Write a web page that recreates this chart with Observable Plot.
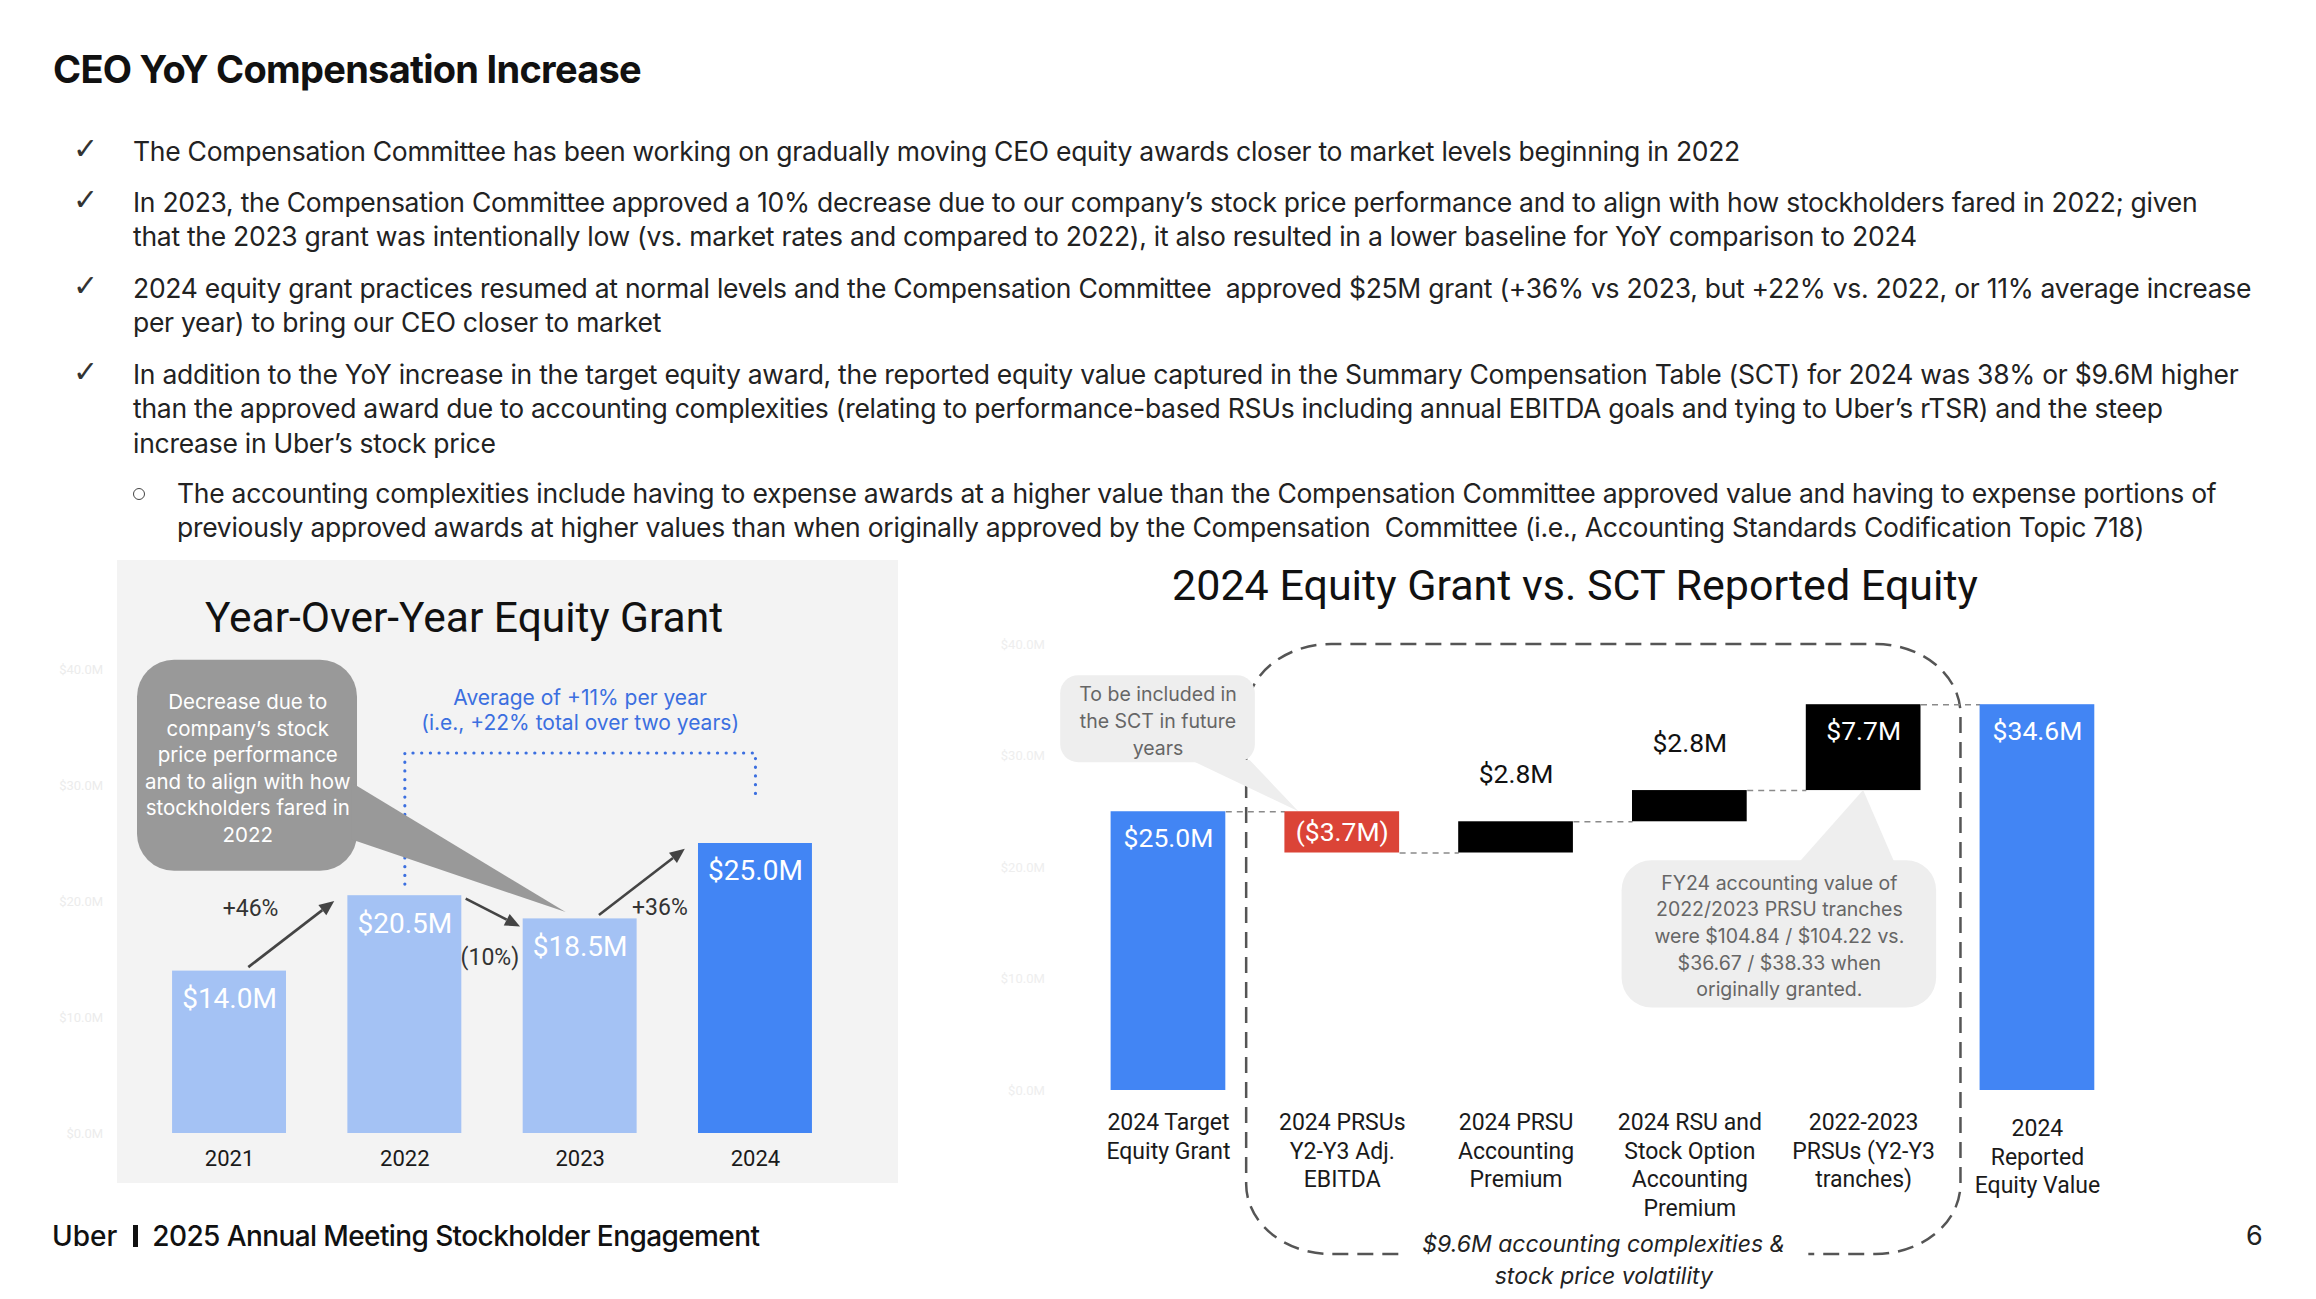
<!DOCTYPE html>
<html>
<head>
<meta charset="utf-8">
<script src="https://cdn.jsdelivr.net/npm/d3@7"></script>
<script src="https://cdn.jsdelivr.net/npm/@observablehq/plot@0.6"></script>
<style>
  html, body { margin: 0; padding: 0; background: #fff; }
  body { width: 2316px; height: 1299px; position: relative; overflow: hidden; font-family: Inter, "Noto Sans", sans-serif; color: #1a1a1a; }
  #title { position: absolute; left: 53px; top: 45px; font-size: 38px; font-weight: 700; line-height: 48px; white-space: nowrap; color: #111; }
  #bullets { position: absolute; left: 0; top: 0; font-size: 26.5px; font-weight: 400; color: #222; }
  .para { position: absolute; left: 133px; line-height: 34.6px; white-space: nowrap; }
  .check { position: absolute; left: -60px; top: -2px; font-family: "DejaVu Sans", sans-serif; font-size: 30px; font-weight: 300; color: #333; letter-spacing: 0; }
  .sub { left: 177px; }
  .circle { position: absolute; left: -44px; top: 12px; width: 10px; height: 10px; border: 1.5px solid #444; border-radius: 50%; }
  #panel { position: absolute; left: 117px; top: 560px; width: 781px; height: 623px; background: #f3f3f3; }
  .ctitle { position: absolute; transform: translate(-50%, -50%); white-space: nowrap; font-family: Roboto, sans-serif; font-weight: 400; color: #111; }
  #leftTitle { left: 464px; top: 617px; font-size: 42.5px; }
  #rightTitle { left: 1575px; top: 585px; font-size: 43px; }
  #left { position: absolute; left: 60px; top: 560px; }
  #right { position: absolute; left: 960px; top: 560px; }
  #footer { position: absolute; left: 52px; top: 1218px; font-size: 28px; font-weight: 500; line-height: 36px; white-space: nowrap; color: #111; }
  #footer .bar { display: inline-block; width: 5px; height: 22px; background: #111; margin: 0 14px 0 16px; vertical-align: -1px; }
  #page { position: absolute; left: 2246px; top: 1218px; font-size: 27px; line-height: 36px; color: #222; }
  svg { overflow: visible; }
</style>
</head>
<body>
<div id="title">CEO YoY Compensation Increase</div>
<div id="bullets">
  <div class="para" style="top:133.7px"><span class="check">✓</span><span id="fitline">The Compensation Committee has been working on gradually moving CEO equity awards closer to market levels beginning in 2022</span></div>
  <div class="para" style="top:184.7px"><span class="check">✓</span>In 2023, the Compensation Committee approved a 10% decrease due to our company’s stock price performance and to align with how stockholders fared in 2022; given<br>that the 2023 grant was intentionally low (vs. market rates and compared to 2022), it also resulted in a lower baseline for YoY comparison to 2024</div>
  <div class="para" style="top:270.7px"><span class="check">✓</span>2024 equity grant practices resumed at normal levels and the Compensation Committee&nbsp; approved $25M grant (+36% vs 2023, but +22% vs. 2022, or 11% average increase<br>per year) to bring our CEO closer to market</div>
  <div class="para" style="top:356.7px"><span class="check">✓</span>In addition to the YoY increase in the target equity award, the reported equity value captured in the Summary Compensation Table (SCT) for 2024 was 38% or $9.6M higher<br>than the approved award due to accounting complexities (relating to performance-based RSUs including annual EBITDA goals and tying to Uber’s rTSR) and the steep<br>increase in Uber’s stock price</div>
  <div class="para sub" style="top:475.7px"><span class="circle"></span>The accounting complexities include having to expense awards at a higher value than the Compensation Committee approved value and having to expense portions of<br>previously approved awards at higher values than when originally approved by the Compensation&nbsp; Committee (i.e., Accounting Standards Codification Topic 718)</div>
</div>
<div id="panel"></div>
<div id="left"></div>
<div id="leftTitle" class="ctitle">Year-Over-Year Equity Grant</div>
<div id="right"></div>
<div id="rightTitle" class="ctitle">2024 Equity Grant vs. SCT Reported Equity</div>
<div id="footer">Uber<span class="bar"></span><span id="footText">2025 Annual Meeting Stockholder Engagement</span></div>
<div id="page">6</div>

<script>
// ---------------- DATA ----------------
const grantYears = ["2021", "2022", "2023", "2024"];
const grantValues = [14.0, 20.5, 18.5, 25.0];
const grantLabels = ["$14.0M", "$20.5M", "$18.5M", "$25.0M"];
const yoyLabels = ["+46%", "(10%)", "+36%"];
const avgNote = "Average of +11% per year\n(i.e., +22% total over two years)";
const decreaseNote = "Decrease due to\ncompany’s stock\nprice performance\nand to align with how\nstockholders fared in\n2022";

const wfCategories = [
  "2024 Target\nEquity Grant",
  "2024 PRSUs\nY2-Y3 Adj.\nEBITDA",
  "2024 PRSU\nAccounting\nPremium",
  "2024 RSU and\nStock Option\nAccounting\nPremium",
  "2022-2023\nPRSUs (Y2-Y3\ntranches)",
  "2024\nReported\nEquity Value"
];
const wfValues = [25.0, -3.7, 2.8, 2.8, 7.7, 34.6];
const wfTypes = ["total", "delta", "delta", "delta", "delta", "total"];
const wfLabels = ["$25.0M", "($3.7M)", "$2.8M", "$2.8M", "$7.7M", "$34.6M"];
const futureNote = "To be included in\nthe SCT in future\nyears";
const trancheNote = "FY24 accounting value of\n2022/2023 PRSU tranches\nwere $104.84 / $104.22 vs.\n$36.67 / $38.33 when\noriginally granted.";
const bracketNote = "$9.6M accounting complexities &\nstock price volatility";
const yTicks = [0, 10, 20, 30, 40];

// ---------------- HELPERS ----------------
const fmtTick = d => `$${d.toFixed(1)}M`;
function callout({x1, x2, y1, y2, r, tail, fill}) {
  return (index, scales) => {
    const X = scales.x, Y = scales.y;
    const g = d3.create("svg:g");
    const L = X(x1), R = X(x2), T = Y(y1), B = Y(y2);
    g.append("rect").attr("x", L).attr("y", T).attr("width", R - L).attr("height", B - T)
      .attr("rx", r).attr("fill", fill);
    g.append("path").attr("d", "M" + tail.map(([x, y]) => `${X(x)},${Y(y)}`).join("L") + "Z").attr("fill", fill);
    return g.node();
  };
}
// arrows with filled triangular heads, drawn through the plot's scales
function solidArrows(data, {stroke, width, head, headWidth}) {
  return (index, scales) => {
    const X = scales.x, Y = scales.y;
    const g = d3.create("svg:g");
    for (const d of data) {
      const ax = X(d.x1), ay = Y(d.y1), bx = X(d.x2), by = Y(d.y2);
      const len = Math.hypot(bx - ax, by - ay), ux = (bx - ax) / len, uy = (by - ay) / len;
      const cx = bx - ux * head, cy = by - uy * head;
      g.append("line").attr("x1", ax).attr("y1", ay).attr("x2", cx).attr("y2", cy)
        .attr("stroke", stroke).attr("stroke-width", width);
      g.append("path").attr("d", `M${bx},${by}L${cx - uy * headWidth},${cy + ux * headWidth}L${cx + uy * headWidth},${cy - ux * headWidth}Z`)
        .attr("fill", stroke);
    }
    return g.node();
  };
}

// ---------------- LEFT CHART ----------------
const HWL = 0.325;
const xDomL = [-0.675, 3.675];
const grant = grantYears.map((year, i) => ({i, year, value: grantValues[i], label: grantLabels[i]}));
const labelOffsets = [[-0.235, 2.25], [-0.02, -3.8], [0.1, -2.15]];
const steps = yoyLabels.map((label, i) => {
  const a = grant[i], b = grant[i + 1];
  const up = b.value > a.value;
  const s = up
    ? {x1: i + 0.11, y1: a.value + 0.3, x2: i + 1 - 0.40, y2: b.value - 0.5}
    : {x1: i + 0.35, y1: a.value - 0.3, x2: i + 1 - 0.34, y2: b.value - 0.7};
  s.label = label;
  s.lx = (s.x1 + s.x2) / 2 + labelOffsets[i][0];
  s.ly = (s.y1 + s.y2) / 2 + labelOffsets[i][1];
  return s;
});
const bracketTop = 32.8;
const avgBracket = [
  {x: grant[1].i, y: grant[1].value + 1},
  {x: grant[1].i, y: bracketTop},
  {x: grant[3].i, y: bracketTop},
  {x: grant[3].i, y: grant[3].value + 4.1}
];

const leftPlot = Plot.plot({
  width: 840, height: 625,
  marginLeft: 50.7, marginRight: 26.7, marginTop: 109, marginBottom: 52,
  x: {domain: xDomL, axis: null},
  y: {domain: [0, 40], axis: null},
  color: {type: "identity"},
  style: {background: "none", fontFamily: "Roboto, sans-serif", overflow: "visible"},
  marks: [
    Plot.text(yTicks, {x: () => xDomL[0], y: d => d, text: fmtTick, textAnchor: "end", dx: -8, fontSize: 13, fill: "#ececec"}),
    Plot.text(grant, {x: "i", y: () => 0, text: "year", dy: 25, fontSize: 22, fill: "#1a1a1a"}),
    Plot.line(avgBracket, {x: "x", y: "y", stroke: "#3b6fe0", strokeWidth: 3.2, strokeDasharray: "0.1,8.6", strokeLinecap: "round"}),
    Plot.rect(grant, {x1: d => d.i - HWL, x2: d => d.i + HWL, y1: () => 0, y2: "value",
      fill: d => d.i === grant.length - 1 ? "#4285f4" : "#a4c2f4"}),
    Plot.text(grant, {x: "i", y: "value", text: "label", dy: 28, fontSize: 28, fill: "#ffffff"}),
    solidArrows(steps, {stroke: "#444", width: 2.6, head: 15, headWidth: 6.5}),
    Plot.text(steps, {x: "lx", y: "ly", text: "label", fontSize: 23, fill: "#333"}),
    Plot.text([avgNote], {x: () => 2, y: () => 36.55, text: d => d, fontSize: 21, lineHeight: 1.2, fill: "#3b6fe0", fontFamily: "Inter, sans-serif"}),
    callout({x1: -0.525, x2: 0.73, y1: 40.8, y2: 22.6, r: 37, fill: "#999999",
      tail: [[0.70, 30.2], [0.70, 25.3], [1.92, 19.05]]}),
    Plot.text([decreaseNote], {x: () => 0.104, y: () => 31.6, text: d => d, fontSize: 20.5, lineHeight: 1.3, fill: "#ffffff", fontFamily: "Inter, sans-serif"})
  ]
});
document.getElementById("left").append(leftPlot);

// ---------------- RIGHT CHART ----------------
const HWR = 0.33;
const xDomR = [-0.7, 5.7];
let run = 0;
const wf = wfCategories.map((cat, i) => {
  const v = wfValues[i];
  const start = wfTypes[i] === "total" ? 0 : run;
  const end = wfTypes[i] === "total" ? v : run + v;
  run = end;
  return {i, cat, value: v, start, end, lo: Math.min(start, end), hi: Math.max(start, end), label: wfLabels[i], type: wfTypes[i]};
});
const barFill = d => d.type === "total" ? "#4285f4" : d.value < 0 ? "#db4437" : "#000000";
const big = wf.filter(d => d.hi - d.lo >= 5);
const mid = wf.filter(d => d.hi - d.lo >= 3 && d.hi - d.lo < 5);
const small = wf.filter(d => d.hi - d.lo < 3);
const connectors = wf.slice(0, -1).map((d, i) => ({x1: d.i + HWR, x2: d.i + 1 - HWR, y: d.end}));

const bracketX = [0.45, 4.56];
function bracketMark(index, scales) {
  const X = scales.x, Y = scales.y;
  const L = X(bracketX[0]), R = X(bracketX[1]), T = Y(40), B = Y(0) + 164;
  const rx = 85, ry = 70, C = (L + R) / 2, gap = 205;
  const d = `M${C - gap},${B} H${L + rx} A${rx},${ry} 0 0 1 ${L},${B - ry} V${T + ry} A${rx},${ry} 0 0 1 ${L + rx},${T}` +
            ` H${R - rx} A${rx},${ry} 0 0 1 ${R},${T + ry} V${B - ry} A${rx},${ry} 0 0 1 ${R - rx},${B} H${C + gap}`;
  return d3.create("svg:path").attr("d", d).attr("fill", "none").attr("stroke", "#555")
    .attr("stroke-width", 2.5).attr("stroke-dasharray", "16,9").node();
}

const rightPlot = Plot.plot({
  width: 1220, height: 730,
  marginLeft: 86.3, marginRight: 21.4, marginTop: 84, marginBottom: 200,
  x: {domain: xDomR, axis: null},
  y: {domain: [0, 40], axis: null},
  color: {type: "identity"},
  style: {background: "none", fontFamily: "Roboto, sans-serif", overflow: "visible"},
  marks: [
    Plot.text(yTicks, {x: () => xDomR[0], y: d => d, text: fmtTick, textAnchor: "end", dx: -2, fontSize: 13, fill: "#eeeeee"}),
    bracketMark,
    Plot.link(connectors, {x1: "x1", x2: "x2", y1: "y", y2: "y", stroke: "#8a8a8a", strokeWidth: 1.6, strokeDasharray: "6,5"}),
    Plot.rect(wf, {x1: d => d.i - HWR, x2: d => d.i + HWR, y1: "lo", y2: "hi", fill: barFill}),
    Plot.text(big, {x: "i", y: "hi", text: "label", dy: 27, fontSize: 26.5, fill: "#ffffff"}),
    Plot.text(mid, {x: "i", y: d => (d.lo + d.hi) / 2, text: "label", fontSize: 26.5, fill: "#ffffff"}),
    Plot.text(small, {x: "i", y: "hi", text: "label", dy: -47, fontSize: 26.5, fill: "#111"}),
    Plot.text(wf.slice(0, -1), {x: "i", y: () => 0, text: "cat", lineAnchor: "top", dy: 19, fontSize: 23, lineHeight: 1.25, fill: "#1a1a1a"}),
    Plot.text(wf.slice(-1), {x: "i", y: () => 0, text: "cat", lineAnchor: "top", dy: 25, fontSize: 23, lineHeight: 1.25, fill: "#1a1a1a"}),
    callout({x1: -0.62, x2: 0.50, y1: 37.2, y2: 29.4, r: 18, fill: "#eeeeee",
      tail: [[0.13, 29.6], [0.47, 29.6], [0.75, 25.0]]}),
    Plot.text([futureNote], {x: () => -0.06, y: () => 33.3, text: d => d, fontSize: 19.5, lineHeight: 1.38, fill: "#666", fontFamily: "Inter, sans-serif"}),
    callout({x1: 2.61, x2: 4.42, y1: 20.6, y2: 7.4, r: 30, fill: "#eeeeee",
      tail: [[3.63, 20.4], [4.18, 20.4], [wf[4].i, wf[4].lo]]}),
    Plot.text([trancheNote], {x: () => 3.515, y: () => 14.0, text: d => d, fontSize: 19.5, lineHeight: 1.37, fill: "#666", fontFamily: "Inter, sans-serif"}),
    Plot.text([bracketNote], {x: () => (bracketX[0] + bracketX[1]) / 2, y: () => 0, text: d => d, lineAnchor: "middle", dy: 167, fontSize: 23, lineHeight: 1.38, fontStyle: "italic", fill: "#222", fontFamily: "Inter, sans-serif"})
  ]
});
document.getElementById("right").append(rightPlot);

// ---------------- TEXT FITTING ----------------
function spacingFor(el, target) {
  el.style.letterSpacing = "0px";
  const w = el.getBoundingClientRect().width;
  return (target - w) / el.textContent.length;
}
const bl = document.getElementById("fitline");
bl.style.display = "inline-block";
const ls = spacingFor(bl, 1607);
bl.style.display = "";
bl.style.letterSpacing = "";
document.getElementById("bullets").style.letterSpacing = ls + "px";
const t = document.getElementById("title");
t.style.display = "inline-block";
t.style.letterSpacing = spacingFor(t, 588) + "px";
const ft = document.getElementById("footText");
ft.style.display = "inline-block";
ft.style.letterSpacing = spacingFor(ft, 607) + "px";
</script>
</body>
</html>
